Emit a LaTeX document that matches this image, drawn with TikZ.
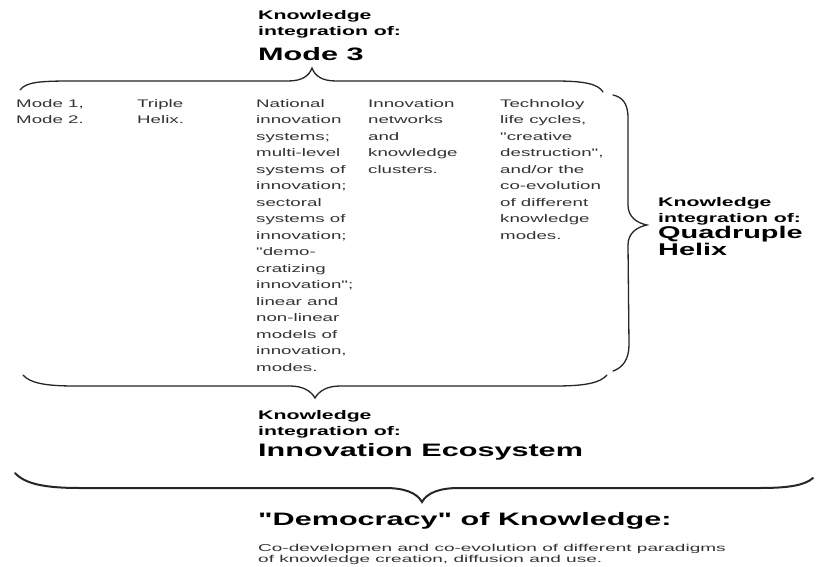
\documentclass[tikz,border=0pt]{standalone}
\usepackage{fontspec}
\setmainfont[FakeStretch=1.7, Ligatures=TeXOff]{Liberation Sans}
\newfontfamily\capfont[FakeStretch=1.9]{Liberation Sans}
\usepackage{tikz}
\tikzset{
	every column/.style={
		anchor=north west,
		align=left,
		inner sep=0pt,
		text=black!80,
		font=\fontsize{11}{16.5}\selectfont
	},
	head small/.style={
		anchor=north west,
		align=left,
		inner sep=0pt,
		font=\fontsize{12.5}{16}\selectfont\bfseries
	},
	head big/.style={
		anchor=north west,
		align=left,
		inner sep=0pt,
		font=\fontsize{18}{20}\selectfont\bfseries
	},
	curly/.style={
		line width=1.3pt,
		line cap=round,
		black!85
	},
	curly big/.style={
		curly,
		line width=2pt
	},
}

\begin{document}
\begin{tikzpicture}[x=1pt, y=-1pt]

\fill [white] (0,0) rectangle (816,567);
\useasboundingbox (0,0) rectangle (816,567);

\foreach \x/\txt [count=\i] in {
	16/{Mode 1,\\Mode 2.},
	137/{Triple\\Helix.},
	256/{National\\innovation\\systems;\\multi-level\\systems of\\innovation;\\sectoral\\systems of\\innovation;\\"demo-\\cratizing\\innovation";\\linear and\\non-linear\\models of\\innovation,\\modes.},
	368/{Innovation\\networks\\and\\knowledge\\clusters.},
	500/{Technoloy\\life cycles,\\"creative\\destruction",\\and/or the\\co-evolution\\of different\\knowledge\\modes.}}
	\node [every column] (col-\i) at (\x,99) {\txt};

\node [head small] (mode3-head) at (258,10) {Knowledge\\integration of:};
\node [head big] (mode3-title) at (258,47) {Mode 3};

\node [head small] (qh-head) at (658,197) {Knowledge\\integration of:};
\node [head big, font=\fontsize{17}{14}\selectfont\bfseries] (qh-title) at (658,226) {Quadruple\\Helix};

\node [head small] (ie-head) at (258,410) {Knowledge\\integration of:};
\node [head big] (ie-title) at (258,443) {Innovation Ecosystem};

\node [head big] (demo-title) at (258,512) {"Democracy" of Knowledge:};
\node [every column, font=\capfont\fontsize{10}{11}\selectfont] (demo-text) at (258,544)
	{Co-developmen and co-evolution of different paradigms\\of knowledge creation, diffusion and use.};

% braces
\draw [curly] (20,90) .. controls (26,82) and (40,81) .. (72,81)
	-- (288,81) .. controls (302,81) and (309,76) .. (312,68)
	.. controls (315,76) and (322,81) .. (336,81)
	-- (555,81) .. controls (585,81) and (598,84) .. (603,92);

\draw [curly] (613,95) .. controls (622,97) and (628,103) .. (628,118)
	-- (628,205) .. controls (628,217) and (637,223) .. (647,225)
	.. controls (637,227) and (628,233) .. (628,245)
	-- (629,345) .. controls (629,360) and (622,368) .. (613,371);

\draw [curly] (23,375) .. controls (30,383) and (45,386) .. (75,386)
	-- (290,386) .. controls (303,386) and (311,391) .. (315,398)
	.. controls (319,391) and (327,386) .. (340,386)
	-- (555,386) .. controls (585,386) and (600,383) .. (607,375);

\draw [curly big] (15,473) .. controls (25,484) and (45,488) .. (80,488)
	-- (385,488) .. controls (405,488) and (417,493) .. (422,502)
	.. controls (427,493) and (439,488) .. (459,488)
	-- (760,488) .. controls (790,488) and (805,485) .. (813,478);

\end{tikzpicture}
\end{document}
